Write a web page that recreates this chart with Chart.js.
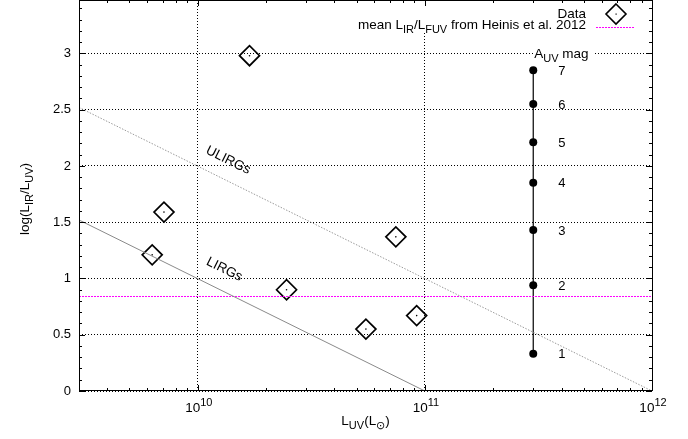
<!DOCTYPE html>
<html>
<head>
<meta charset="utf-8">
<script src="https://cdn.jsdelivr.net/npm/chart.js@4.4.0/dist/chart.umd.min.js"></script>
<style>
html, body { margin: 0; padding: 0; background: #fff; }
</style>
</head>
<body>
<canvas id="chart" width="688" height="439"></canvas>
<script>
// measured galaxies
const dataLuv = [6.3e9, 7.1e9, 1.69e10, 2.46e10, 5.5e10, 7.45e10, 9.2e10];
const dataIrx = [1.21, 1.59, 2.98, 0.90, 0.55, 1.37, 0.67];

// reference lines
const ulirgLuv = [3e9, 1e12];
const ulirgIrx = [2.52, 0];
const lirgLuv = [3e9, 1e11];
const lirgIrx = [1.52, 0];
const heinisLuv = [3e9, 1e12];
const heinisIrx = [0.84, 0.84];

// A_UV scale
const auvLuv = 3.0e11;
const auvIrx = [0.33, 0.94, 1.43, 1.85, 2.21, 2.55, 2.85];
const auvLabels = ['1', '2', '3', '4', '5', '6', '7'];

const xMajor = [1e10, 1e11, 1e12];
const xLabels = [['10', '10'], ['10', '11'], ['10', '12']];
const yMajor = [0, 0.5, 1, 1.5, 2, 2.5, 3];

const FONT = '"Liberation Sans", Arial, Helvetica, sans-serif';

function pts(xs, ys) {
    return xs.map((x, i) => ({x: x, y: ys[i]}));
}

// parts: [text, kind] kind 0 normal, 1 sub, 2 sup
function drawRich(ctx, parts, x, y, align, size) {
    size = size || 13;
    const small = Math.round(size * 0.78);
    let w = 0;
    parts.forEach(p => {
        ctx.font = (p[1] ? small : size) + 'px ' + FONT;
        w += ctx.measureText(p[0]).width;
    });
    let cx = align === 'right' ? x - w : align === 'center' ? x - w / 2 : x;
    ctx.textAlign = 'left';
    ctx.textBaseline = 'alphabetic';
    parts.forEach(p => {
        ctx.font = (p[1] ? small : size) + 'px ' + FONT;
        const dy = p[1] === 1 ? 4 : p[1] === 2 ? -6 : 0;
        ctx.fillText(p[0], cx, y + dy);
        cx += ctx.measureText(p[0]).width;
    });
    return w;
}

const decor = {
    id: 'decor',
    afterDraw(chart) {
        const {ctx, chartArea: a, scales: {x, y}} = chart;
        ctx.save();
        ctx.fillStyle = '#000';

        // line labels, rotated along the lines
        const ang = Math.atan2(
            y.getPixelForValue(ulirgIrx[1]) - y.getPixelForValue(ulirgIrx[0]),
            x.getPixelForValue(ulirgLuv[1]) - x.getPixelForValue(ulirgLuv[0]));
        [['ULIRGs', 1.36e10, 2.05], ['LIRGs', 1.31e10, 1.08]].forEach(l => {
            ctx.save();
            ctx.translate(x.getPixelForValue(l[1]), y.getPixelForValue(l[2]));
            ctx.rotate(ang);
            ctx.font = '13.5px ' + FONT;
            ctx.textAlign = 'center';
            ctx.textBaseline = 'middle';
            ctx.fillText(l[0], 0, 0);
            ctx.restore();
        });

        // A_UV labels
        const ax = x.getPixelForValue(auvLuv);
        ctx.font = '13px ' + FONT;
        ctx.textAlign = 'left';
        ctx.textBaseline = 'middle';
        auvLabels.forEach((t, i) => ctx.fillText(t, ax + 25, y.getPixelForValue(auvIrx[i]) + 1));
        ctx.fillStyle = '#fff';
        ctx.fillRect(ax, 46, 60, 14);
        ctx.fillStyle = '#000';
        drawRich(ctx, [['A', 0], ['UV', 1], [' mag', 0]], ax + 1, 58, 'left', 13.5);

        // key
        ctx.fillStyle = '#fff';
        ctx.fillRect(342, 1, 303, 32);
        ctx.fillStyle = '#000';
        drawRich(ctx, [['Data', 0]], 586, 18, 'right', 13.5);
        drawRich(ctx, [['mean L', 0], ['IR', 1], ['/L', 0], ['FUV', 1], [' from Heinis et al. 2012', 0]], 586, 29, 'right', 13.5);
        ctx.strokeStyle = '#000';
        ctx.lineWidth = 1.6;
        ctx.beginPath();
        ctx.moveTo(616, 4); ctx.lineTo(626, 14); ctx.lineTo(616, 24); ctx.lineTo(606, 14); ctx.closePath();
        ctx.stroke();
        ctx.fillRect(615.5, 13.5, 1.2, 1.2);
        ctx.strokeStyle = '#ff00ff';
        ctx.lineWidth = 1;
        ctx.setLineDash([2, 1]);
        ctx.beginPath();
        ctx.moveTo(596, 27.5); ctx.lineTo(634, 27.5);
        ctx.stroke();
        ctx.setLineDash([]);

        // border and inward ticks
        ctx.strokeStyle = '#000';
        ctx.lineWidth = 1;
        ctx.beginPath();
        for (let i = 0; i <= 34; i++) {
            const py = Math.round(y.getPixelForValue(i / 10)) + 0.5;
            const len = i % 5 === 0 ? 6 : 3;
            ctx.moveTo(a.left, py); ctx.lineTo(a.left + len, py);
            ctx.moveTo(a.right, py); ctx.lineTo(a.right - len, py);
        }
        for (let e = 9; e <= 11; e++) {
            for (let m = 1; m <= 9; m++) {
                const v = m * Math.pow(10, e);
                if (v < x.min || v > x.max) continue;
                const px = Math.round(x.getPixelForValue(v)) + 0.5;
                const len = m === 1 ? 6 : 3;
                ctx.moveTo(px, a.bottom); ctx.lineTo(px, a.bottom - len);
                ctx.moveTo(px, a.top); ctx.lineTo(px, a.top + len);
            }
        }
        ctx.stroke();
        ctx.strokeRect(Math.round(a.left) + 0.5, Math.round(a.top) + 0.5,
            Math.round(a.right - a.left), Math.round(a.bottom - a.top) - 1);

        // x tick labels with exponents
        xMajor.forEach((v, i) => {
            drawRich(ctx, [[xLabels[i][0], 0], [xLabels[i][1], 2]], x.getPixelForValue(v) + 1, 412, 'center', 13.5);
        });

        // axis titles
        drawRich(ctx, [['L', 0], ['UV', 1], ['(L', 0], ['\u2299', 1], [')', 0]], (a.left + a.right) / 2, 425, 'center', 13.5);
        ctx.save();
        ctx.translate(29, 199);
        ctx.rotate(-Math.PI / 2);
        drawRich(ctx, [['log(L', 0], ['IR', 1], ['/L', 0], ['UV', 1], [')', 0]], 0, 0, 'center', 13.5);
        ctx.restore();

        ctx.restore();
    }
};

new Chart(document.getElementById('chart'), {
    type: 'scatter',
    data: {
        datasets: [
            {
                label: 'ULIRGs', data: pts(ulirgLuv, ulirgIrx), showLine: true, pointRadius: 0,
                borderColor: '#9a9a9a', borderWidth: 1, borderDash: [1.5, 1.5]
            },
            {
                label: 'LIRGs', data: pts(lirgLuv, lirgIrx), showLine: true, pointRadius: 0,
                borderColor: '#8a8a8a', borderWidth: 1
            },
            {
                label: 'Heinis', data: pts(heinisLuv, heinisIrx), showLine: true, pointRadius: 0,
                borderColor: '#ff00ff', borderWidth: 1, borderDash: [2, 1]
            },
            {
                label: 'A_UV', data: auvIrx.map(v => ({x: auvLuv, y: v})), showLine: true,
                borderColor: '#000', backgroundColor: '#000', borderWidth: 1.2,
                pointRadius: 4, pointBorderWidth: 0
            },
            {
                label: 'Data', data: pts(dataLuv, dataIrx), pointStyle: 'rectRot', pointRadius: 10,
                borderColor: '#000', backgroundColor: 'rgba(0,0,0,0)', borderWidth: 1.7
            },
            {
                label: 'centres', data: pts(dataLuv, dataIrx), pointRadius: 0.8,
                borderColor: '#000', backgroundColor: '#000', borderWidth: 0
            }
        ]
    },
    options: {
        responsive: false,
        animation: false,
        layout: {autoPadding: false, padding: {left: 0, right: 36, top: 0, bottom: 0}},
        plugins: {legend: {display: false}, tooltip: {enabled: false}},
        scales: {
            x: {
                type: 'logarithmic', min: 3e9, max: 1e12,
                afterBuildTicks: s => { s.ticks = xMajor.map(v => ({value: v})); },
                afterFit: s => { s.height = 48; s.paddingLeft = 0; s.paddingRight = 0; },
                ticks: {display: false},
                grid: {color: '#000', lineWidth: 1, drawTicks: false},
                border: {display: false, dash: [1, 2]}
            },
            y: {
                min: 0, max: 3.475,
                afterBuildTicks: s => { s.ticks = yMajor.map(v => ({value: v})); },
                afterFit: s => { s.width = 79; s.paddingTop = 0; s.paddingBottom = 0; },
                ticks: {
                    color: '#000', padding: 8, font: {family: FONT, size: 13},
                    callback: v => String(v)
                },
                grid: {color: '#000', lineWidth: 1, drawTicks: false},
                border: {display: false, dash: [1, 2]}
            }
        }
    },
    plugins: [decor]
});
</script>
</body>
</html>
